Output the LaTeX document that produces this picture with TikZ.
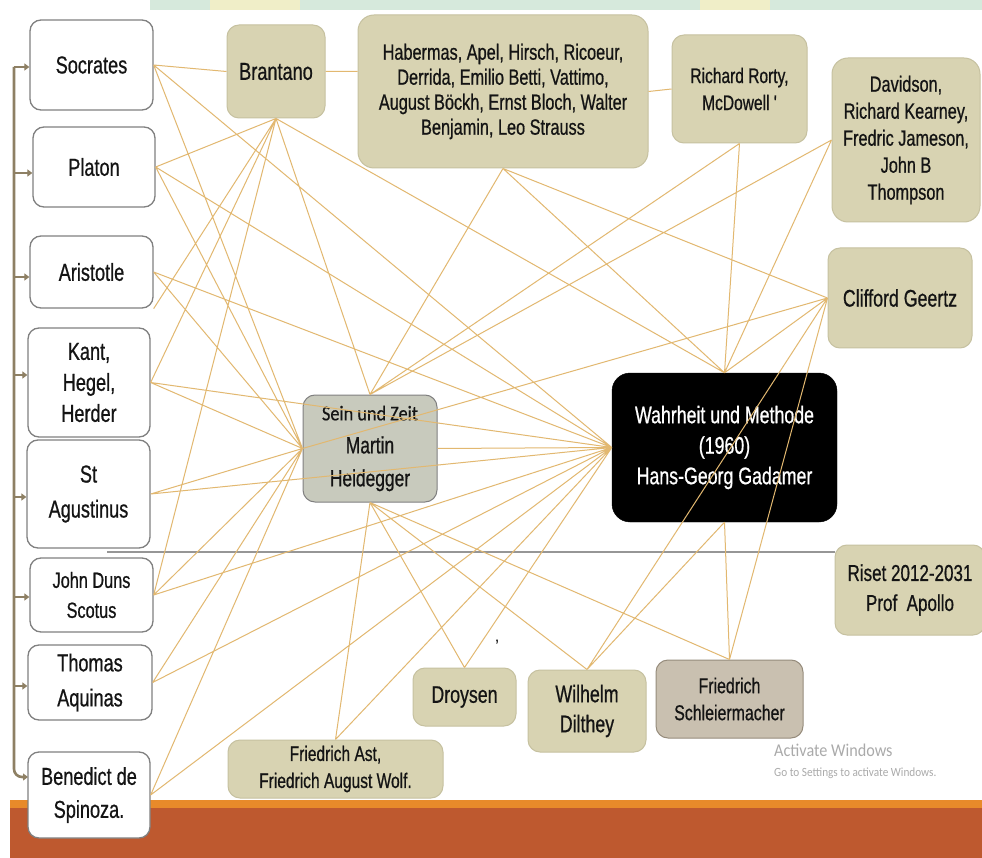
\documentclass[tikz,border=0pt]{standalone}
\usepackage{fontspec}
\setmainfont{Liberation Sans}
\newfontfamily\narr{Liberation Sans}[FakeStretch=0.74,FakeBold=0.7]
\newfontfamily\calib{Carlito}[FakeStretch=0.87,FakeBold=0.5]
\newfontfamily\winf{Carlito}[FakeStretch=0.9]
\usetikzlibrary{arrows.meta}

\definecolor{linec}{RGB}{226,184,112}
\definecolor{tanfill}{RGB}{216,211,178}
\definecolor{tanedge}{RGB}{198,193,160}
\definecolor{leftedge}{RGB}{128,128,128}
\definecolor{seinfill}{RGB}{200,202,189}
\definecolor{schfill}{RGB}{201,192,176}
\definecolor{schedge}{RGB}{150,140,124}
\definecolor{brk}{RGB}{142,128,100}
\definecolor{foot}{RGB}{190,89,47}
\definecolor{footl}{RGB}{232,138,42}
\definecolor{topband}{RGB}{214,233,220}
\definecolor{topyel}{RGB}{240,238,200}
\definecolor{txt}{RGB}{20,20,20}
\definecolor{wmark}{RGB}{170,170,170}
\definecolor{hline}{RGB}{150,150,150}

\tikzset{
 lbox/.style={draw=leftedge, line width=1.3pt, fill=white, rounded corners=11pt, inner sep=0pt, align=center, text=txt, font=\narr\fontsize{24.5}{31}\selectfont},
 tbox/.style={draw=tanedge, line width=1pt, fill=tanfill, rounded corners=12pt, inner sep=0pt, align=center, text=txt},
 conn/.style={draw=linec, line width=1pt},
 stub/.style={draw=brk, line width=2.6pt, -{Triangle[length=5pt,width=7pt]}},
 brline/.style={draw=brk, line width=2.6pt},
}

\begin{document}
\begin{tikzpicture}[x=1pt,y=-1pt]
\useasboundingbox (0,0) rectangle (982,858);
\fill[white] (0,0) rectangle (982,858);
% top band and footer
\fill[topband] (150,0) rectangle (982,10);
\fill[topyel] (210,0) rectangle (300,10);
\fill[topyel] (700,0) rectangle (770,10);
\fill[foot] (10,800) rectangle (982,858);
\fill[footl] (10,800) rectangle (982,808);

% left column
\node[lbox, minimum width=123pt, minimum height=90pt] (soc) at (91.5,65) {Socrates};
\node[lbox, minimum width=122pt, minimum height=80pt] (pla) at (94,167) {Platon};
\node[lbox, minimum width=123pt, minimum height=72pt] (ari) at (91.5,272) {Aristotle};
\node[lbox, minimum width=122pt, minimum height=109pt] (kan) at (89,382.5) {Kant,\\Hegel,\\Herder};
\node[lbox, minimum width=123pt, minimum height=108pt, font=\narr\fontsize{24.5}{35}\selectfont] (agu) at (88.5,494) {St\\Agustinus};
\node[lbox, minimum width=123pt, minimum height=74pt, font=\narr\fontsize{22}{30}\selectfont] (dun) at (91.5,595) {John Duns\\Scotus};
\node[lbox, minimum width=124pt, minimum height=75pt, font=\narr\fontsize{24.5}{35}\selectfont] (tho) at (90,682.5) {Thomas\\Aquinas};
\node[lbox, minimum width=122pt, minimum height=86pt, font=\narr\fontsize{24.5}{33}\selectfont] (spi) at (89,795) {Benedict de\\Spinoza.};

% upper boxes
\node[tbox, minimum width=98pt, minimum height=93pt, font=\narr\fontsize{24.5}{30}\selectfont] (br) at (276,71.5) {Brantano};
\node[tbox, minimum width=290pt, minimum height=153pt, rounded corners=16pt, font=\narr\fontsize{22}{25}\selectfont] (hab) at (503,91.5) {Habermas, Apel, Hirsch, Ricoeur,\\Derrida, Emilio Betti, Vattimo,\\August Böckh, Ernst Bloch, Walter\\Benjamin, Leo Strauss};
\node[tbox, minimum width=135pt, minimum height=108pt, font=\narr\fontsize{21}{27}\selectfont] (ror) at (739.5,89) {Richard Rorty,\\McDowell '};
\node[tbox, minimum width=148pt, minimum height=164pt, rounded corners=16pt, font=\narr\fontsize{22}{27}\selectfont] (dav) at (906,140) {Davidson,\\Richard Kearney,\\Fredric Jameson,\\John B\\Thompson};
\node[tbox, minimum width=144pt, minimum height=100pt, font=\narr\fontsize{24}{30}\selectfont] (cli) at (900,298) {Clifford Geertz};

% central boxes
\node[draw=black, fill=black, rounded corners=18pt, minimum width=225pt, minimum height=149pt, inner sep=0pt, align=center, text=white, font=\narr\fontsize{24}{30.5}\selectfont] (w) at (724.5,447.5) {Wahrheit und Methode\\(1960)\\Hans-Georg Gadamer};
\node[draw=leftedge, line width=1pt, fill=seinfill, rounded corners=12pt, minimum width=134pt, minimum height=107pt, inner sep=0pt, align=center, text=txt, font=\narr\fontsize{23.5}{33}\selectfont] (sz) at (370,448.5) {{\calib\fontsize{21}{33}\selectfont Sein und Zeit}\\Martin\\Heidegger};

% right / lower boxes
\node[tbox, minimum width=150pt, minimum height=90pt, font=\narr\fontsize{23}{30}\selectfont] (ris) at (910,590) {Riset 2012-2031\\Prof\ \ Apollo};
\node[tbox, minimum width=103pt, minimum height=58pt, font=\narr\fontsize{24}{30}\selectfont] (dro) at (464.5,697) {Droysen};
\node[tbox, minimum width=118pt, minimum height=82pt, font=\narr\fontsize{24}{30}\selectfont] (dil) at (587,711) {Wilhelm\\Dilthey};
\node[tbox, draw=schedge, fill=schfill, minimum width=147pt, minimum height=78pt, font=\narr\fontsize{21.5}{27}\selectfont] (sch) at (729.5,699) {Friedrich\\Schleiermacher};
\node[tbox, minimum width=215pt, minimum height=58pt, font=\narr\fontsize{21}{27}\selectfont] (ast) at (335.5,769) {Friedrich Ast,\\Friedrich August Wolf.};

% small tick mark and watermark
\node[text=txt, font=\fontsize{18}{18}\selectfont, inner sep=0pt] (tick) at (497,646) {'};
\node[anchor=west, text=wmark, font=\winf\fontsize{18}{20}\selectfont, inner sep=0pt] (act1) at (774,750) {Activate Windows};
\node[anchor=west, text=wmark, font=\winf\fontsize{12.5}{14}\selectfont, inner sep=0pt] (act2) at (774,773) {Go to Settings to activate Windows.};

% left bracket
\coordinate (btop) at (14,67);
\coordinate (bend) at (28,777);
\draw[brline, rounded corners=8pt, -{Triangle[length=5pt,width=7pt]}] (btop) |- (bend);
\draw[stub] (14,67) -- (soc.west |- 0,67);
\draw[stub] (14,173) -- (pla.west |- 0,173);
\draw[stub] (14,277) -- (ari.west |- 0,277);
\draw[stub] (14,375) -- (kan.west |- 0,375);
\draw[stub] (14,497) -- (agu.west |- 0,497);
\draw[stub] (14,597) -- (dun.west |- 0,597);
\draw[stub] (14,686) -- (tho.west |- 0,686);

% gray horizontal line to Riset
\coordinate (hstart) at (107,552);
\draw[draw=hline, line width=1.6pt] (hstart) -- (hstart -| ris.west);

% connectors
\draw[conn]
 (soc.east) -- (br.west)
 (br.east) -- (br.east -| hab.west)
 (hab.east) -- (ror.west)
 (pla.east) -- (br.south)
 (ari.south east) -- (br.south)
 (kan.east) -- (br.south)
 (dun.east) -- (br.south)
 (soc.east) -- (sz.west)
 (pla.east) -- (sz.west)
 (ari.east) -- (sz.west)
 (kan.east) -- (sz.west)
 (agu.east) -- (sz.west)
 (dun.east) -- (sz.west)
 (tho.east) -- (sz.west)
 (spi.east) -- (sz.west)
 (soc.east) -- (w.west)
 (pla.east) -- (w.west)
 (ari.east) -- (w.west)
 (kan.east) -- (w.west)
 (agu.east) -- (w.west)
 (dun.east) -- (w.west)
 (tho.east) -- (w.west)
 (spi.east) -- (w.west)
 (br.south) -- (sz.north)
 (br.south) -- (w.north)
 (hab.south) -- (sz.north)
 (hab.south) -- (w.north)
 (hab.south) -- (cli.west)
 (ror.south) -- (sz.north)
 (ror.south) -- (w.north)
 (dav.west) -- (sz.north)
 (dav.west) -- (w.north)
 (cli.west) -- (w.north)
 (cli.west) -- (sz.west)
 (cli.west) -- (dil.north)
 (cli.west) -- (sch.north)
 (sz.east) -- (w.west)
 (sz.south) -- (dro.north)
 (sz.south) -- (dil.north)
 (sz.south) -- (sch.north)
 (sz.south) -- (ast.north)
 (dro.north) -- (w.west)
 (ast.north) -- (w.west)
 (w.south) -- (dil.north)
 (w.south) -- (sch.north);
\end{tikzpicture}
\end{document}
